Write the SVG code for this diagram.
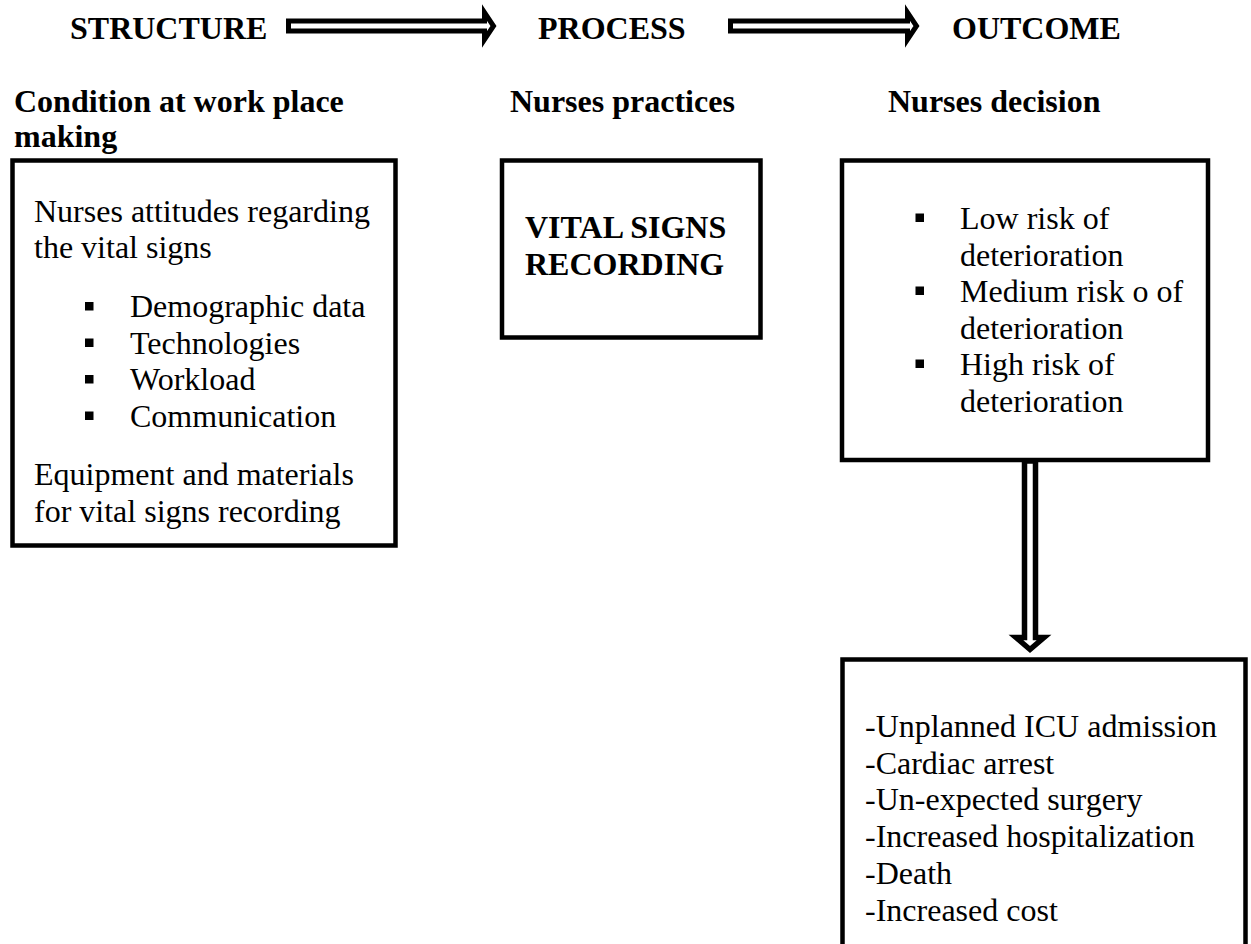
<svg xmlns="http://www.w3.org/2000/svg" width="1251" height="944" viewBox="0 0 1251 944">
<style>
.t{font-family:"Liberation Serif","Times New Roman",serif;font-size:32px;fill:#000}
.b{font-weight:bold}
.box{fill:#fff;stroke:#000;stroke-width:4.5}
.arr{fill:#fff;stroke:#000;stroke-width:5;stroke-linejoin:miter}
.bul{fill:#000}
</style>
<rect width="1251" height="944" fill="#fff"/>
<g id="headers">
<text class="t b" x="70" y="39">STRUCTURE</text>
<text class="t b" x="538" y="39">PROCESS</text>
<text class="t b" x="952" y="39">OUTCOME</text>
<text class="t b" x="14" y="112">Condition at work place</text>
<text class="t b" x="14" y="147">making</text>
<text class="t b" x="510" y="112">Nurses practices</text>
<text class="t b" x="888" y="112">Nurses decision</text>
</g>
<g id="connectors">
<path class="arr" d="M288.5,21 H484.5 V12.5 L493.5,26 L484.5,39.5 V31 H288.5 Z"/>
<path class="arr" d="M730.5,21 H907.5 V12.5 L916.5,26 L907.5,39.5 V31 H730.5 Z"/>
<path class="arr" style="stroke-width:5.5" d="M1024.5,461 V637.5 H1016 L1030,649.5 L1044,637.5 H1035.5 V461 Z"/>
</g>
<g id="node-structure">
<rect class="box" x="12.5" y="160.5" width="383" height="385"/>
<text class="t" x="34" y="222">Nurses attitudes regarding</text>
<text class="t" x="34" y="258">the vital signs</text>
<rect class="bul" x="85" y="302" width="8.5" height="8.5"/>
<text class="t" x="130" y="317">Demographic data</text>
<rect class="bul" x="85" y="338.5" width="8.5" height="8.5"/>
<text class="t" x="130" y="353.5">Technologies</text>
<rect class="bul" x="85" y="375" width="8.5" height="8.5"/>
<text class="t" x="130" y="390">Workload</text>
<rect class="bul" x="85" y="411.5" width="8.5" height="8.5"/>
<text class="t" x="130" y="426.5">Communication</text>
<text class="t" x="34" y="485">Equipment and materials</text>
<text class="t" x="34" y="522">for vital signs recording</text>
</g>
<g id="node-process">
<rect class="box" x="502" y="160.5" width="258.5" height="177"/>
<text class="t b" x="525" y="238">VITAL SIGNS</text>
<text class="t b" x="525" y="275">RECORDING</text>
</g>
<g id="node-decision">
<rect class="box" x="842" y="160.5" width="366" height="299.5"/>
<rect class="bul" x="915.5" y="213.5" width="8.5" height="8.5"/>
<text class="t" x="960" y="229">Low risk of</text>
<text class="t" x="960" y="265.5">deterioration</text>
<rect class="bul" x="915.5" y="286.5" width="8.5" height="8.5"/>
<text class="t" x="960" y="302">Medium risk o of</text>
<text class="t" x="960" y="338.5">deterioration</text>
<rect class="bul" x="915.5" y="359.5" width="8.5" height="8.5"/>
<text class="t" x="960" y="375">High risk of</text>
<text class="t" x="960" y="411.5">deterioration</text>
</g>
<g id="node-outcome">
<rect class="box" x="842.5" y="659.5" width="403" height="310"/>
<text class="t" x="865" y="737">-Unplanned ICU admission</text>
<text class="t" x="865" y="773.5">-Cardiac arrest</text>
<text class="t" x="865" y="810">-Un-expected surgery</text>
<text class="t" x="865" y="847">-Increased hospitalization</text>
<text class="t" x="865" y="884">-Death</text>
<text class="t" x="865" y="921">-Increased cost</text>
</g>
</svg>
